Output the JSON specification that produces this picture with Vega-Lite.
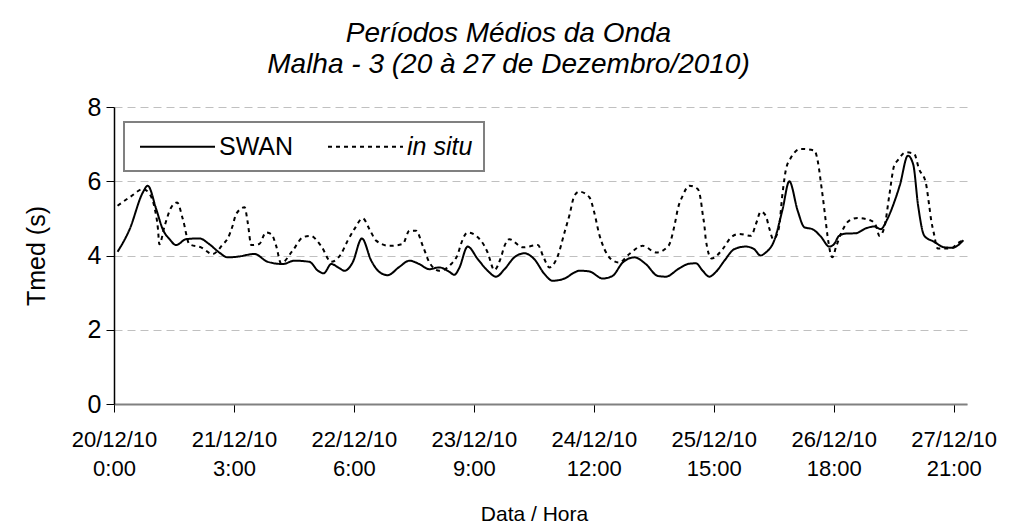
{
  "$schema": "https://vega.github.io/schema/vega-lite/v6.json",
  "width": 853,
  "height": 297,
  "autosize": {"type": "none"},
  "padding": {"left": 114, "top": 107, "right": 46, "bottom": 127},
  "background": "white",
  "config": {"view": {"stroke": null}, "font": "Liberation Sans"},
  "title": {
    "text": ["Períodos Médios da Onda", "Malha - 3 (20 à 27 de Dezembro/2010)"],
    "font": "Liberation Sans", "fontSize": 28, "fontStyle": "italic", "fontWeight": "normal",
    "anchor": "middle", "frame": "group", "dx": -32, "offset": 16, "lineHeight": 31, "color": "black"
  },
  "data": {"values": [
    {"serie": "SWAN", "hora": 0.8, "tmed": 4.1},
    {"serie": "SWAN", "hora": 3.5, "tmed": 4.7},
    {"serie": "SWAN", "hora": 6.5, "tmed": 5.7},
    {"serie": "SWAN", "hora": 7.6, "tmed": 5.88},
    {"serie": "SWAN", "hora": 9.5, "tmed": 5.25},
    {"serie": "SWAN", "hora": 11, "tmed": 4.7},
    {"serie": "SWAN", "hora": 12.5, "tmed": 4.44},
    {"serie": "SWAN", "hora": 14, "tmed": 4.28},
    {"serie": "SWAN", "hora": 16.2, "tmed": 4.44},
    {"serie": "SWAN", "hora": 19.2, "tmed": 4.46},
    {"serie": "SWAN", "hora": 21.5, "tmed": 4.3},
    {"serie": "SWAN", "hora": 23.7, "tmed": 4.08},
    {"serie": "SWAN", "hora": 25.6, "tmed": 3.95},
    {"serie": "SWAN", "hora": 27.9, "tmed": 3.97},
    {"serie": "SWAN", "hora": 31.6, "tmed": 4.04},
    {"serie": "SWAN", "hora": 34.6, "tmed": 3.83},
    {"serie": "SWAN", "hora": 38, "tmed": 3.77},
    {"serie": "SWAN", "hora": 40.6, "tmed": 3.86},
    {"serie": "SWAN", "hora": 44, "tmed": 3.83},
    {"serie": "SWAN", "hora": 45.9, "tmed": 3.59},
    {"serie": "SWAN", "hora": 47.2, "tmed": 3.52},
    {"serie": "SWAN", "hora": 48.9, "tmed": 3.77},
    {"serie": "SWAN", "hora": 50.7, "tmed": 3.66},
    {"serie": "SWAN", "hora": 51.9, "tmed": 3.59},
    {"serie": "SWAN", "hora": 53.7, "tmed": 3.81},
    {"serie": "SWAN", "hora": 55.8, "tmed": 4.46},
    {"serie": "SWAN", "hora": 57.9, "tmed": 3.86},
    {"serie": "SWAN", "hora": 59.7, "tmed": 3.56},
    {"serie": "SWAN", "hora": 61.6, "tmed": 3.47},
    {"serie": "SWAN", "hora": 64.2, "tmed": 3.69},
    {"serie": "SWAN", "hora": 66.5, "tmed": 3.86},
    {"serie": "SWAN", "hora": 68.7, "tmed": 3.77},
    {"serie": "SWAN", "hora": 71, "tmed": 3.63},
    {"serie": "SWAN", "hora": 73.2, "tmed": 3.68},
    {"serie": "SWAN", "hora": 75.5, "tmed": 3.56},
    {"serie": "SWAN", "hora": 76.6, "tmed": 3.48},
    {"serie": "SWAN", "hora": 77.7, "tmed": 3.66},
    {"serie": "SWAN", "hora": 79.6, "tmed": 4.24},
    {"serie": "SWAN", "hora": 81.9, "tmed": 3.9},
    {"serie": "SWAN", "hora": 84.1, "tmed": 3.59},
    {"serie": "SWAN", "hora": 86, "tmed": 3.43},
    {"serie": "SWAN", "hora": 87.9, "tmed": 3.63},
    {"serie": "SWAN", "hora": 90.1, "tmed": 3.95},
    {"serie": "SWAN", "hora": 92.4, "tmed": 4.06},
    {"serie": "SWAN", "hora": 94.6, "tmed": 3.9},
    {"serie": "SWAN", "hora": 96.9, "tmed": 3.5},
    {"serie": "SWAN", "hora": 98.7, "tmed": 3.32},
    {"serie": "SWAN", "hora": 101.4, "tmed": 3.38},
    {"serie": "SWAN", "hora": 103.6, "tmed": 3.54},
    {"serie": "SWAN", "hora": 104.7, "tmed": 3.59},
    {"serie": "SWAN", "hora": 107, "tmed": 3.57},
    {"serie": "SWAN", "hora": 110, "tmed": 3.38},
    {"serie": "SWAN", "hora": 112.2, "tmed": 3.45},
    {"serie": "SWAN", "hora": 114.5, "tmed": 3.81},
    {"serie": "SWAN", "hora": 117.1, "tmed": 3.95},
    {"serie": "SWAN", "hora": 119.7, "tmed": 3.77},
    {"serie": "SWAN", "hora": 122.4, "tmed": 3.45},
    {"serie": "SWAN", "hora": 124.2, "tmed": 3.43},
    {"serie": "SWAN", "hora": 127.2, "tmed": 3.65},
    {"serie": "SWAN", "hora": 129.5, "tmed": 3.78},
    {"serie": "SWAN", "hora": 131, "tmed": 3.79},
    {"serie": "SWAN", "hora": 132.5, "tmed": 3.59},
    {"serie": "SWAN", "hora": 134, "tmed": 3.43},
    {"serie": "SWAN", "hora": 135.5, "tmed": 3.56},
    {"serie": "SWAN", "hora": 137.4, "tmed": 3.86},
    {"serie": "SWAN", "hora": 139.6, "tmed": 4.17},
    {"serie": "SWAN", "hora": 142.2, "tmed": 4.24},
    {"serie": "SWAN", "hora": 144.1, "tmed": 4.17},
    {"serie": "SWAN", "hora": 145.5, "tmed": 4.0},
    {"serie": "SWAN", "hora": 146.7, "tmed": 4.08},
    {"serie": "SWAN", "hora": 148.6, "tmed": 4.4},
    {"serie": "SWAN", "hora": 150.5, "tmed": 5.25},
    {"serie": "SWAN", "hora": 152, "tmed": 6.0},
    {"serie": "SWAN", "hora": 153.9, "tmed": 5.2},
    {"serie": "SWAN", "hora": 155.4, "tmed": 4.76},
    {"serie": "SWAN", "hora": 157.2, "tmed": 4.71},
    {"serie": "SWAN", "hora": 159.1, "tmed": 4.51},
    {"serie": "SWAN", "hora": 161, "tmed": 4.24},
    {"serie": "SWAN", "hora": 162.1, "tmed": 4.31},
    {"serie": "SWAN", "hora": 163.2, "tmed": 4.53},
    {"serie": "SWAN", "hora": 164.7, "tmed": 4.59},
    {"serie": "SWAN", "hora": 167, "tmed": 4.6},
    {"serie": "SWAN", "hora": 169.2, "tmed": 4.73},
    {"serie": "SWAN", "hora": 171.1, "tmed": 4.78},
    {"serie": "SWAN", "hora": 172.6, "tmed": 4.71},
    {"serie": "SWAN", "hora": 173.9, "tmed": 4.94},
    {"serie": "SWAN", "hora": 175.6, "tmed": 5.43},
    {"serie": "SWAN", "hora": 176.9, "tmed": 5.9},
    {"serie": "SWAN", "hora": 178.7, "tmed": 6.69},
    {"serie": "SWAN", "hora": 179.9, "tmed": 6.45},
    {"serie": "SWAN", "hora": 181, "tmed": 5.34},
    {"serie": "SWAN", "hora": 182.4, "tmed": 4.53},
    {"serie": "SWAN", "hora": 184.6, "tmed": 4.37},
    {"serie": "SWAN", "hora": 186.9, "tmed": 4.22},
    {"serie": "SWAN", "hora": 188.7, "tmed": 4.21},
    {"serie": "SWAN", "hora": 191.2, "tmed": 4.41},
    {"serie": "in situ", "hora": 0.8, "tmed": 5.34},
    {"serie": "in situ", "hora": 3.9, "tmed": 5.6},
    {"serie": "in situ", "hora": 6.5, "tmed": 5.79},
    {"serie": "in situ", "hora": 8, "tmed": 5.66},
    {"serie": "in situ", "hora": 9.1, "tmed": 5.3},
    {"serie": "in situ", "hora": 9.9, "tmed": 4.71},
    {"serie": "in situ", "hora": 10.2, "tmed": 4.3},
    {"serie": "in situ", "hora": 11.4, "tmed": 4.8},
    {"serie": "in situ", "hora": 12.9, "tmed": 5.3},
    {"serie": "in situ", "hora": 14.2, "tmed": 5.43},
    {"serie": "in situ", "hora": 15.5, "tmed": 4.98},
    {"serie": "in situ", "hora": 17, "tmed": 4.3},
    {"serie": "in situ", "hora": 19.6, "tmed": 4.22},
    {"serie": "in situ", "hora": 22.2, "tmed": 4.04},
    {"serie": "in situ", "hora": 24.5, "tmed": 4.3},
    {"serie": "in situ", "hora": 25.6, "tmed": 4.46},
    {"serie": "in situ", "hora": 26.7, "tmed": 4.8},
    {"serie": "in situ", "hora": 27.5, "tmed": 5.12},
    {"serie": "in situ", "hora": 29.4, "tmed": 5.3},
    {"serie": "in situ", "hora": 30.1, "tmed": 4.89},
    {"serie": "in situ", "hora": 30.9, "tmed": 4.28},
    {"serie": "in situ", "hora": 32.7, "tmed": 4.31},
    {"serie": "in situ", "hora": 34.2, "tmed": 4.62},
    {"serie": "in situ", "hora": 35.4, "tmed": 4.58},
    {"serie": "in situ", "hora": 36.5, "tmed": 4.26},
    {"serie": "in situ", "hora": 37.6, "tmed": 3.79},
    {"serie": "in situ", "hora": 40.2, "tmed": 4.13},
    {"serie": "in situ", "hora": 42.5, "tmed": 4.49},
    {"serie": "in situ", "hora": 44.2, "tmed": 4.53},
    {"serie": "in situ", "hora": 46.6, "tmed": 4.26},
    {"serie": "in situ", "hora": 48.9, "tmed": 3.83},
    {"serie": "in situ", "hora": 51.1, "tmed": 4.04},
    {"serie": "in situ", "hora": 52.6, "tmed": 4.4},
    {"serie": "in situ", "hora": 54.1, "tmed": 4.71},
    {"serie": "in situ", "hora": 56, "tmed": 5.0},
    {"serie": "in situ", "hora": 57.5, "tmed": 4.71},
    {"serie": "in situ", "hora": 59, "tmed": 4.4},
    {"serie": "in situ", "hora": 62, "tmed": 4.26},
    {"serie": "in situ", "hora": 65, "tmed": 4.31},
    {"serie": "in situ", "hora": 66.5, "tmed": 4.67},
    {"serie": "in situ", "hora": 68, "tmed": 4.67},
    {"serie": "in situ", "hora": 69.5, "tmed": 4.26},
    {"serie": "in situ", "hora": 71, "tmed": 3.81},
    {"serie": "in situ", "hora": 73.2, "tmed": 3.59},
    {"serie": "in situ", "hora": 75.9, "tmed": 3.77},
    {"serie": "in situ", "hora": 77.4, "tmed": 4.04},
    {"serie": "in situ", "hora": 78.1, "tmed": 4.31},
    {"serie": "in situ", "hora": 79.6, "tmed": 4.62},
    {"serie": "in situ", "hora": 82.6, "tmed": 4.4},
    {"serie": "in situ", "hora": 84.1, "tmed": 4.08},
    {"serie": "in situ", "hora": 85.6, "tmed": 3.61},
    {"serie": "in situ", "hora": 87.1, "tmed": 3.95},
    {"serie": "in situ", "hora": 87.9, "tmed": 4.26},
    {"serie": "in situ", "hora": 89, "tmed": 4.44},
    {"serie": "in situ", "hora": 92, "tmed": 4.22},
    {"serie": "in situ", "hora": 95.4, "tmed": 4.28},
    {"serie": "in situ", "hora": 96.7, "tmed": 3.95},
    {"serie": "in situ", "hora": 98, "tmed": 3.68},
    {"serie": "in situ", "hora": 99.9, "tmed": 3.99},
    {"serie": "in situ", "hora": 101.4, "tmed": 4.62},
    {"serie": "in situ", "hora": 102.5, "tmed": 5.08},
    {"serie": "in situ", "hora": 103.6, "tmed": 5.6},
    {"serie": "in situ", "hora": 104.7, "tmed": 5.72},
    {"serie": "in situ", "hora": 107, "tmed": 5.57},
    {"serie": "in situ", "hora": 108.1, "tmed": 5.16},
    {"serie": "in situ", "hora": 109.2, "tmed": 4.58},
    {"serie": "in situ", "hora": 110.4, "tmed": 4.17},
    {"serie": "in situ", "hora": 111.9, "tmed": 3.9},
    {"serie": "in situ", "hora": 113.7, "tmed": 3.81},
    {"serie": "in situ", "hora": 116, "tmed": 4.04},
    {"serie": "in situ", "hora": 119, "tmed": 4.26},
    {"serie": "in situ", "hora": 122.1, "tmed": 4.08},
    {"serie": "in situ", "hora": 124.8, "tmed": 4.26},
    {"serie": "in situ", "hora": 126.3, "tmed": 4.89},
    {"serie": "in situ", "hora": 126.9, "tmed": 5.25},
    {"serie": "in situ", "hora": 128, "tmed": 5.61},
    {"serie": "in situ", "hora": 129.5, "tmed": 5.88},
    {"serie": "in situ", "hora": 131.4, "tmed": 5.79},
    {"serie": "in situ", "hora": 132.1, "tmed": 5.48},
    {"serie": "in situ", "hora": 132.5, "tmed": 5.12},
    {"serie": "in situ", "hora": 132.9, "tmed": 4.8},
    {"serie": "in situ", "hora": 133.2, "tmed": 4.44},
    {"serie": "in situ", "hora": 134.5, "tmed": 3.92},
    {"serie": "in situ", "hora": 137, "tmed": 4.17},
    {"serie": "in situ", "hora": 138.9, "tmed": 4.49},
    {"serie": "in situ", "hora": 140.7, "tmed": 4.58},
    {"serie": "in situ", "hora": 143.4, "tmed": 4.53},
    {"serie": "in situ", "hora": 144.5, "tmed": 4.85},
    {"serie": "in situ", "hora": 145.6, "tmed": 5.18},
    {"serie": "in situ", "hora": 146.7, "tmed": 5.07},
    {"serie": "in situ", "hora": 147.5, "tmed": 4.73},
    {"serie": "in situ", "hora": 148.4, "tmed": 4.44},
    {"serie": "in situ", "hora": 149.6, "tmed": 4.71},
    {"serie": "in situ", "hora": 150.5, "tmed": 5.7},
    {"serie": "in situ", "hora": 151.2, "tmed": 6.29},
    {"serie": "in situ", "hora": 152.2, "tmed": 6.6},
    {"serie": "in situ", "hora": 154.6, "tmed": 6.87},
    {"serie": "in situ", "hora": 157.6, "tmed": 6.83},
    {"serie": "in situ", "hora": 158.7, "tmed": 6.33},
    {"serie": "in situ", "hora": 159.1, "tmed": 5.97},
    {"serie": "in situ", "hora": 159.6, "tmed": 5.52},
    {"serie": "in situ", "hora": 160.1, "tmed": 5.03},
    {"serie": "in situ", "hora": 160.6, "tmed": 4.53},
    {"serie": "in situ", "hora": 161.7, "tmed": 3.95},
    {"serie": "in situ", "hora": 162.5, "tmed": 4.22},
    {"serie": "in situ", "hora": 163.6, "tmed": 4.58},
    {"serie": "in situ", "hora": 165.5, "tmed": 4.94},
    {"serie": "in situ", "hora": 167.4, "tmed": 5.01},
    {"serie": "in situ", "hora": 170.4, "tmed": 4.94},
    {"serie": "in situ", "hora": 171.5, "tmed": 4.8},
    {"serie": "in situ", "hora": 172.3, "tmed": 4.53},
    {"serie": "in situ", "hora": 173.4, "tmed": 4.76},
    {"serie": "in situ", "hora": 174.5, "tmed": 5.61},
    {"serie": "in situ", "hora": 175.6, "tmed": 6.42},
    {"serie": "in situ", "hora": 176.4, "tmed": 6.56},
    {"serie": "in situ", "hora": 178.2, "tmed": 6.78},
    {"serie": "in situ", "hora": 180.1, "tmed": 6.74},
    {"serie": "in situ", "hora": 181.2, "tmed": 6.33},
    {"serie": "in situ", "hora": 182.7, "tmed": 5.97},
    {"serie": "in situ", "hora": 183.5, "tmed": 5.34},
    {"serie": "in situ", "hora": 183.9, "tmed": 4.98},
    {"serie": "in situ", "hora": 184.5, "tmed": 4.62},
    {"serie": "in situ", "hora": 185.4, "tmed": 4.19},
    {"serie": "in situ", "hora": 188.4, "tmed": 4.19},
    {"serie": "in situ", "hora": 189.9, "tmed": 4.33},
    {"serie": "in situ", "hora": 191.2, "tmed": 4.41}
  ]},
  "mark": {"type": "line", "interpolate": "monotone", "strokeWidth": 2, "color": "black"},
  "encoding": {
    "x": {
      "field": "hora", "type": "quantitative",
      "scale": {"domain": [0, 192], "nice": false, "zero": false},
      "axis": {
        "values": [0, 27, 54, 81, 108, 135, 162, 189],
        "labelExpr": "[(20 + floor(datum.value / 24)) + '/12/10', (datum.value % 24) + ':00']",
        "title": "Data / Hora", "grid": false,
        "domainColor": "#808080", "domainWidth": 2,
        "tickColor": "black", "tickSize": 8, "tickWidth": 1,
        "labelFont": "Liberation Sans", "labelFontSize": 22, "labelColor": "black",
        "labelPadding": 17, "labelLineHeight": 29, "labelFlush": false, "labelOverlap": false,
        "titleFont": "Liberation Sans", "titleFontSize": 21, "titleFontWeight": "normal", "titleColor": "black",
        "titlePadding": 24, "titleX": 420
      }
    },
    "y": {
      "field": "tmed", "type": "quantitative",
      "scale": {"domain": [0, 8], "nice": false},
      "axis": {
        "values": [0, 2, 4, 6, 8],
        "title": "Tmed (s)", "grid": true, "gridDash": [8, 5], "gridColor": "#c0c0c0", "gridWidth": 1,
        "domainColor": "black", "domainWidth": 1.5,
        "tickColor": "black", "tickSize": 8, "tickWidth": 1,
        "labelFont": "Liberation Sans", "labelFontSize": 25, "labelColor": "black", "labelPadding": 5,
        "titleFont": "Liberation Sans", "titleFontSize": 25, "titleFontWeight": "normal", "titleColor": "black", "titlePadding": 38
      }
    },
    "strokeDash": {
      "field": "serie", "type": "nominal",
      "scale": {"domain": ["SWAN", "in situ"], "range": [[1, 0], [4, 4]]},
      "legend": {
        "orient": "none", "legendX": 10, "legendY": 15, "direction": "horizontal", "title": null,
        "symbolType": "M-3,0H3", "symbolSize": 625, "symbolStrokeWidth": 2, "symbolStrokeColor": "black", "symbolFillColor": "transparent",
        "symbolOffset": 29,
        "labelFont": "Liberation Sans", "labelFontSize": 25, "labelColor": "black", "labelOffset": 28, "labelLimit": 300,
        "columnPadding": 29, "padding": 11, "strokeColor": "#808080", "fillColor": "white",
        "encode": {
          "labels": {"update": {"fontStyle": {"signal": "datum.value == 'in situ' ? 'italic' : 'normal'"}}},
          "legend": {"update": {"strokeWidth": {"value": 2}}}
        }
      }
    }
  }
}
